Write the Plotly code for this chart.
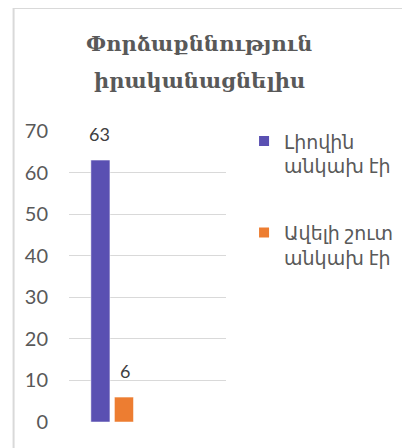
import plotly.graph_objects as go


# ==========================================
# DATA
# ==========================================

title_lines = ["Փորձաքննություն", "իրականացնելիս"]

categories = [""]
series_names = ["Լիովին<br>անկախ էի", "Ավելի շուտ<br>անկախ էի"]
series_values = [[63], [6]]
series_colors = ["#5a50b2", "#ed7d31"]

y_ticks = [0, 10, 20, 30, 40, 50, 60, 70]


# ==========================================
# BAR CHART
# ==========================================
# note: the html body has an 8px margin, so the figure is 8px smaller
# than the window and everything is laid out 8px up/left

def independence_chart():

    fig = go.Figure()

    for k, (name, values, color) in enumerate(zip(series_names, series_values, series_colors)):
        fig.add_trace(
            go.Bar(
                x=categories,
                y=values,
                name=name,
                legendgroup=str(k),
                marker=dict(color=color, line=dict(color="white", width=0.5)),
            )
        )

    # data labels sit a bit higher than plotly's "outside" text
    shifts = [-13, 13]
    for values, xs in zip(series_values, shifts):
        for i, v in enumerate(values):
            fig.add_annotation(
                x=i, y=v, text=str(v),
                xshift=xs, yshift=13, yanchor="bottom",
                showarrow=False,
                font=dict(family="Lato, DejaVu Sans", size=18, color="#404040"),
            )

    for i, line in enumerate(title_lines):
        fig.add_annotation(
            text="<b>" + line + "</b>",
            xref="paper", yref="paper",
            x=0.83, y=[1.299, 1.172][i],
            xanchor="center", yanchor="middle",
            showarrow=False,
            font=dict(family="DejaVu Serif", size=21, color="#595959"),
        )

    # chart border (light gray, runs off the right and bottom)
    fig.add_shape(
        type="rect", xref="paper", yref="paper",
        x0=-0.353, x1=2.5, y0=-0.5, y1=1.423,
        line=dict(color="#d9d9d9", width=2),
        layer="below",
    )

    fig.update_layout(
        width=402,
        height=440,
        barmode="group",
        bargap=0.4,
        bargroupgap=0.19,
        margin=dict(l=61, r=168, t=123, b=26),
        paper_bgcolor="white",
        plot_bgcolor="white",
        font=dict(family="Lato, DejaVu Sans", color="#595959"),
        xaxis=dict(
            type="category",
            range=[-0.55, 1.45],
            showticklabels=False,
            showgrid=False,
            zeroline=False,
            showline=False,
            automargin=False,
        ),
        yaxis=dict(
            range=[0, 70],
            tickvals=y_ticks,
            showgrid=True,
            gridcolor="#d9d9d9",
            gridwidth=1,
            zeroline=False,
            showline=False,
            ticks="",
            ticklabelstandoff=20,
            automargin=False,
            tickfont=dict(family="Lato, DejaVu Sans", size=20, color="#595959"),
        ),
        legend=dict(
            x=1.115, y=1.03,
            xanchor="left", yanchor="top",
            valign="top",
            font=dict(family="Lato, DejaVu Sans", size=19, color="#595959"),
            itemsizing="constant",
            tracegroupgap=39,
        ),
        showlegend=True,
    )

    return fig


fig = independence_chart()
fig.write_html("out.html")
